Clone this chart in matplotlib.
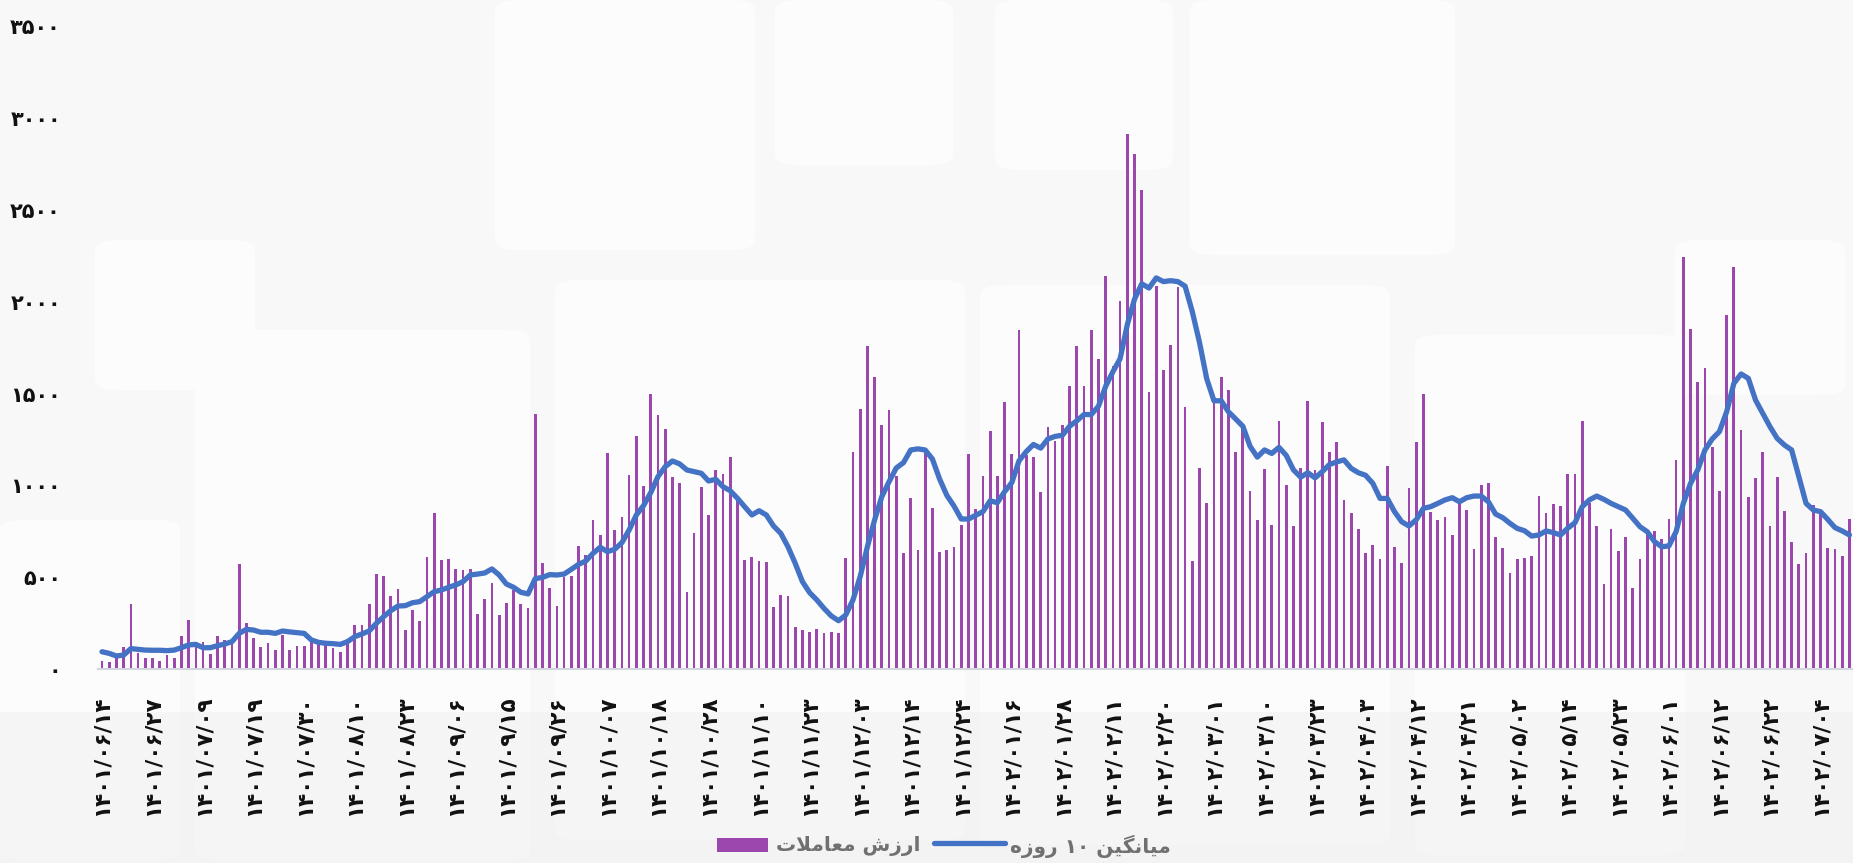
import matplotlib
matplotlib.use('Agg')
import matplotlib.pyplot as plt
from matplotlib.patches import FancyBboxPatch, Rectangle
from matplotlib.lines import Line2D

plt.rcParams['font.family'] = ['DejaVu Sans']

# ---------------- data ----------------
dates = ['۱۴۰۱/۰۶/۱۴', '۱۴۰۱/۰۶/۲۷', '۱۴۰۱/۰۷/۰۹', '۱۴۰۱/۰۷/۱۹', '۱۴۰۱/۰۷/۳۰',
         '۱۴۰۱/۰۸/۱۰', '۱۴۰۱/۰۸/۲۳', '۱۴۰۱/۰۹/۰۶', '۱۴۰۱/۰۹/۱۵', '۱۴۰۱/۰۹/۲۶',
         '۱۴۰۱/۱۰/۰۷', '۱۴۰۱/۱۰/۱۸', '۱۴۰۱/۱۰/۲۸', '۱۴۰۱/۱۱/۱۰', '۱۴۰۱/۱۱/۲۳',
         '۱۴۰۱/۱۲/۰۳', '۱۴۰۱/۱۲/۱۴', '۱۴۰۱/۱۲/۲۴', '۱۴۰۲/۰۱/۱۶', '۱۴۰۲/۰۱/۲۸',
         '۱۴۰۲/۰۲/۱۱', '۱۴۰۲/۰۲/۲۰', '۱۴۰۲/۰۳/۰۱', '۱۴۰۲/۰۳/۱۰', '۱۴۰۲/۰۳/۲۳',
         '۱۴۰۲/۰۴/۰۳', '۱۴۰۲/۰۴/۱۲', '۱۴۰۲/۰۴/۲۱', '۱۴۰۲/۰۵/۰۲', '۱۴۰۲/۰۵/۱۴',
         '۱۴۰۲/۰۵/۲۳', '۱۴۰۲/۰۶/۰۱', '۱۴۰۲/۰۶/۱۲', '۱۴۰۲/۰۶/۲۲', '۱۴۰۲/۰۷/۰۴']
label_step = 7   # one date label every 7 trading days

# daily trade value
trade_value = [
    45, 36, 58, 122, 352, 85, 58, 58, 44, 76,
    62, 178, 268, 130, 146, 81, 180, 157, 152, 570,
    250, 170, 122, 142, 106, 184, 106, 124, 124, 170,
    139, 130, 115, 94, 166, 241, 241, 352, 519, 508,
    399, 434, 215, 320, 261, 612, 851, 592, 597, 543,
    537, 543, 297, 380, 467, 294, 358, 430, 352, 330,
    1389, 579, 439, 345, 503, 507, 670, 621, 812, 728,
    1175, 757, 828, 1057, 1267, 997, 1500, 1382, 1307, 1048,
    1011, 421, 741, 990, 839, 1084, 1062, 1155, 921, 592,
    610, 588, 581, 340, 403, 399, 231, 212, 203, 216,
    196, 202, 195, 606, 1180, 1416, 1759, 1591, 1331, 1409,
    1050, 633, 934, 649, 1174, 875, 639, 649, 663, 782,
    1172, 871, 1049, 1296, 1049, 1453, 1172, 1849, 1168, 1152,
    962, 1320, 1243, 1330, 1540, 1758, 1540, 1849, 1691, 2140,
    1649, 2006, 2916, 2807, 2609, 1510, 2085, 1631, 1762, 2079,
    1425, 590, 1093, 906, 1471, 1590, 1520, 1184, 1322, 970,
    812, 1089, 782, 1352, 1002, 778, 1095, 1457, 1085, 1346,
    1180, 1235, 918, 848, 764, 634, 674, 597, 1108, 666,
    576, 984, 1235, 1498, 857, 812, 830, 730, 902, 866,
    654, 1002, 1011, 719, 661, 521, 601, 603, 616, 942,
    848, 897, 890, 1061, 1060, 1349, 902, 781, 461, 761,
    641, 721, 441, 599, 748, 752, 706, 819, 1138, 2246,
    1850, 1565, 1638, 1207, 970, 1928, 2188, 1300, 935, 1039,
    1184, 781, 1048, 861, 692, 570, 634, 893, 852, 661,
    655, 616, 819]

# 10-day average as drawn
avg_10 = [
    94, 85, 71, 76, 111, 107, 103, 102, 102, 100,
    103, 116, 131, 134, 116, 116, 127, 136, 149, 194,
    216, 212, 200, 200, 194, 207, 202, 198, 194, 158,
    145, 140, 138, 134, 149, 176, 191, 207, 249, 285,
    318, 343, 345, 361, 367, 394, 421, 430, 445, 458,
    476, 512, 517, 523, 545, 512, 463, 445, 418, 409,
    492, 499, 514, 512, 517, 543, 570, 588, 630, 663,
    639, 652, 688, 757, 839, 890, 961, 1048, 1102, 1133,
    1117, 1084, 1075, 1066, 1024, 1033, 993, 971, 930, 884,
    839, 862, 839, 779, 739, 666, 576, 476, 416, 376,
    330, 289, 263, 294, 376, 503, 666, 812, 939, 1020,
    1095, 1124, 1193, 1199, 1193, 1144, 1035, 946, 887, 817,
    817, 837, 857, 916, 906, 966, 1015, 1134, 1184, 1223,
    1203, 1253, 1267, 1273, 1322, 1352, 1386, 1386, 1431, 1540,
    1619, 1690, 1876, 2015, 2098, 2075, 2130, 2110, 2115, 2110,
    2085, 1946, 1778, 1580, 1461, 1461, 1401, 1362, 1322, 1213,
    1154, 1193, 1174, 1207, 1164, 1085, 1045, 1069, 1041, 1075,
    1114, 1128, 1139, 1093, 1069, 1055, 1011, 929, 929, 857,
    802, 779, 812, 875, 884, 902, 921, 933, 911, 933,
    942, 942, 911, 844, 824, 793, 766, 753, 724, 730,
    752, 743, 730, 767, 797, 884, 921, 942, 924, 902,
    884, 866, 821, 775, 748, 694, 666, 670, 748, 902,
    1011, 1084, 1193, 1253, 1293, 1401, 1556, 1607, 1583, 1465,
    1393, 1320, 1256, 1220, 1193, 1048, 902, 866, 857, 815,
    770, 752, 730]

y_ticks = [0, 500, 1000, 1500, 2000, 2500, 3000, 3500]
series_names = ['ارزش معاملات', 'میانگین ۱۰ روزه']


# ---------------- persian text helpers (no shaping engine in matplotlib) ----------------
FA_DIGITS = '۰۱۲۳۴۵۶۷۸۹'

def fa_num(n):
    return ''.join(FA_DIGITS[int(c)] for c in str(n))

# isolated, final, initial, medial
FORMS = {
    'ا': ('\uFE8D', '\uFE8E', None, None),
    'ر': ('\uFEAD', '\uFEAE', None, None),
    'ز': ('\uFEAF', '\uFEB0', None, None),
    'و': ('\uFEED', '\uFEEE', None, None),
    'ش': ('\uFEB5', '\uFEB6', '\uFEB7', '\uFEB8'),
    'م': ('\uFEE1', '\uFEE2', '\uFEE3', '\uFEE4'),
    'ع': ('\uFEC9', '\uFECA', '\uFECB', '\uFECC'),
    'ل': ('\uFEDD', '\uFEDE', '\uFEDF', '\uFEE0'),
    'ت': ('\uFE95', '\uFE96', '\uFE97', '\uFE98'),
    'ی': ('\uFBFC', '\uFBFD', '\uFBFE', '\uFBFF'),
    'ن': ('\uFEE5', '\uFEE6', '\uFEE7', '\uFEE8'),
    'گ': ('\uFB92', '\uFB93', '\uFB94', '\uFB95'),
    'ه': ('\uFEE9', '\uFEEA', '\uFEEB', '\uFEEC'),
}

def shape_word(word):
    # merge lam + alef into one unit
    units = []
    i = 0
    while i < len(word):
        if word[i] == 'ل' and i + 1 < len(word) and word[i + 1] == 'ا':
            units.append('لا')
            i += 2
        else:
            units.append(word[i])
            i += 1
    out = []
    for k, u in enumerate(units):
        prev = units[k - 1] if k > 0 else None
        nxt = units[k + 1] if k + 1 < len(units) else None
        joins_prev = prev is not None and prev in FORMS and FORMS[prev][2] is not None
        if u == 'لا':
            out.append('\uFEFC' if joins_prev else '\uFEFB')
            continue
        if u not in FORMS:
            out.append(u)
            continue
        f = FORMS[u]
        joins_next = nxt is not None and f[2] is not None
        if joins_prev and joins_next:
            out.append(f[3])
        elif joins_prev:
            out.append(f[1])
        elif joins_next:
            out.append(f[2])
        else:
            out.append(f[0])
    return ''.join(out)

def rtl(text):
    words = text.split(' ')
    vis = []
    for w in reversed(words):
        if all(c in FA_DIGITS for c in w):
            vis.append(w)
        else:
            vis.append(shape_word(w)[::-1])
    return ' '.join(vis)


# ---------------- figure ----------------
W, H = 1853, 863
fig = plt.figure(figsize=(W / 100, H / 100), dpi=100)
fig.patch.set_facecolor('#f8f8f9')

# faint decorative background tiles (pixel boxes: x0, y0 from top, w, h)
tiles = [(95, 240, 160, 150), (495, 0, 260, 250), (775, 0, 178, 165), (995, 0, 178, 170),
         (1190, 0, 265, 255), (555, 280, 410, 560), (980, 285, 410, 560), (1415, 335, 270, 520),
         (1675, 240, 170, 155), (195, 330, 335, 530), (0, 520, 180, 340)]
for x0, y0, w, h in tiles:
    fig.add_artist(FancyBboxPatch((x0 / W, 1 - (y0 + h) / H), w / W, h / H,
                                  boxstyle='round,pad=0,rounding_size=0.012',
                                  transform=fig.transFigure, facecolor='#fcfcfd',
                                  edgecolor='none', zorder=0))
fig.add_artist(Rectangle((0, 0), 1, 1 - 712 / H, transform=fig.transFigure,
                         facecolor='#f0f0f1', edgecolor='none', alpha=0.5, zorder=0))

# plot area: x from 98 px to right edge, y baseline 669 px, 3500 at 26 px
ax = fig.add_axes([98.4 / W, 1 - 669 / H, 1 - 98.4 / W, (669 - 26.4) / H])
ax.set_facecolor('none')

x = list(range(len(trade_value)))
ax.bar(x, trade_value, width=0.38, color='#9b47ae', zorder=2)
ax.plot(x, avg_10, color='#4472c4', linewidth=3.8, solid_joinstyle='round',
        solid_capstyle='round', zorder=3)

ax.set_xlim(-0.5, len(trade_value) - 0.5)
ax.set_ylim(0, 3500)

ax.set_yticks(y_ticks)
ax.set_yticklabels([fa_num(v) for v in y_ticks], fontsize=15, fontweight='bold', color='#111111')
ax.tick_params(axis='y', length=0, pad=27)

tick_pos = [i * label_step for i in range(len(dates))]
ax.set_xticks(tick_pos)
ax.set_xticklabels(dates, rotation=90, fontsize=15.5, fontweight='bold', color='#111111',
                   ha='center', va='top')
ax.tick_params(axis='x', length=0, pad=19)

for s in ['top', 'right', 'left']:
    ax.spines[s].set_visible(False)
ax.spines['bottom'].set_color('#d4d6de')
ax.spines['bottom'].set_linewidth(1.5)

# legend (placed like the original, bars entry on the left)
leg_y = 1 - 846 / H
fig.add_artist(Rectangle((717 / W, 1 - 852 / H), 51 / W, 14 / H, transform=fig.transFigure,
                         facecolor='#9b47ae', edgecolor='none', zorder=5))
fig.text(776 / W, leg_y, rtl(series_names[0]), fontsize=14.5, fontweight='bold',
         color='#707070', ha='left', va='center')
fig.add_artist(Line2D([934 / W, 1005 / W], [leg_y + 3 / H, leg_y + 3 / H], transform=fig.transFigure,
                      color='#4472c4', linewidth=3.8, solid_capstyle='round', zorder=5))
fig.text(1010 / W, leg_y, rtl(series_names[1]), fontsize=14.5, fontweight='bold',
         color='#707070', ha='left', va='center')

fig.savefig('out.png', dpi=100, facecolor=fig.get_facecolor())
